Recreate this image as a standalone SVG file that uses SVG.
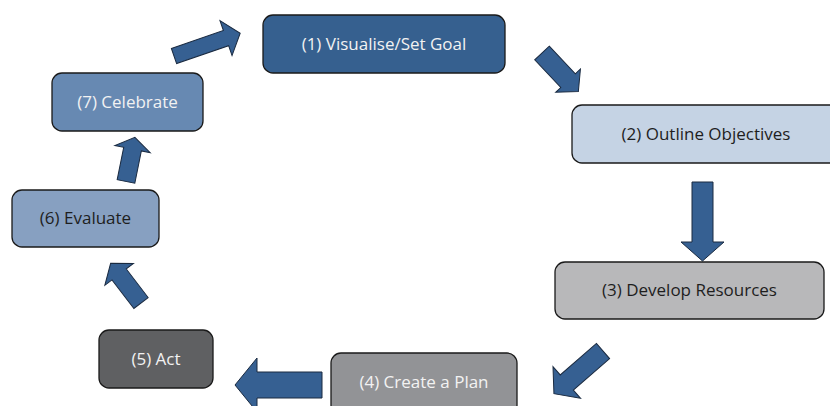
<svg xmlns="http://www.w3.org/2000/svg" width="830" height="406" viewBox="0 0 830 406">
<style>
.n{stroke:#1a1a1a;stroke-width:1.3}
.t{font-family:"Open Sans","Noto Sans",sans-serif;font-size:17px;text-anchor:middle;dominant-baseline:central}
.w{fill:#f2f2f2}
.d{fill:#1e1e1e}
.a{fill:#366092;stroke:#1a2a40;stroke-width:1}
</style>
<rect width="830" height="406" fill="#ffffff"/>
<g id="connectors">
<path class="a" transform="translate(174,56) rotate(-19)" d="M0,-8 L55,-8 L55,-18.5 L70,0 L55,18.5 L55,8 L0,8 Z"/>
<path class="a" transform="translate(542,53) rotate(46.7)" d="M0,-10 L38,-10 L38,-17 L53,0 L38,17 L38,10 L0,10 Z"/>
<path class="a" transform="translate(702.5,182) rotate(90)" d="M0,-10.5 L60,-10.5 L60,-21.5 L79,0 L60,21.5 L60,10.5 L0,10.5 Z"/>
<path class="a" transform="translate(603,351) rotate(139)" d="M0,-10 L48,-10 L48,-21 L65,0 L48,21 L48,10 L0,10 Z"/>
<path class="a" transform="translate(322,385) rotate(180)" d="M0,-13 L65,-13 L65,-27 L87,0 L65,27 L65,13 L0,13 Z"/>
<path class="a" transform="translate(141,303) rotate(-127.4)" d="M0,-9 L36,-9 L36,-18 L50,0 L36,18 L36,9 L0,9 Z"/>
<path class="a" transform="translate(126,181.5) rotate(-78.6)" d="M0,-9 L33,-9 L33,-18 L45,0 L33,18 L33,9 L0,9 Z"/>
</g>
<g id="node1">
<rect class="n" x="263" y="15" width="242" height="58" rx="10" fill="#36608f"/>
<text class="t w" x="384" y="43">(1) Visualise/Set Goal</text>
</g>
<g id="node2">
<rect class="n" x="572" y="105" width="268" height="58" rx="10" fill="#c5d3e4"/>
<text class="t d" x="706" y="133">(2) Outline Objectives</text>
</g>
<g id="node3">
<rect class="n" x="555" y="262" width="269" height="57" rx="10" fill="#b8b8ba"/>
<text class="t d" x="689.5" y="289.5">(3) Develop Resources</text>
</g>
<g id="node4">
<rect class="n" x="331" y="353" width="186" height="62" rx="10" fill="#929396"/>
<text class="t w" x="424" y="381">(4) Create a Plan</text>
</g>
<g id="node5">
<rect class="n" x="99" y="330" width="114" height="58" rx="10" fill="#5f6062"/>
<text class="t w" x="156" y="358">(5) Act</text>
</g>
<g id="node6">
<rect class="n" x="12" y="190" width="147" height="57" rx="10" fill="#87a0c1"/>
<text class="t d" x="85.5" y="217.5">(6) Evaluate</text>
</g>
<g id="node7">
<rect class="n" x="52" y="73" width="151" height="58" rx="10" fill="#6789b2"/>
<text class="t w" x="127.5" y="101">(7) Celebrate</text>
</g>
</svg>
